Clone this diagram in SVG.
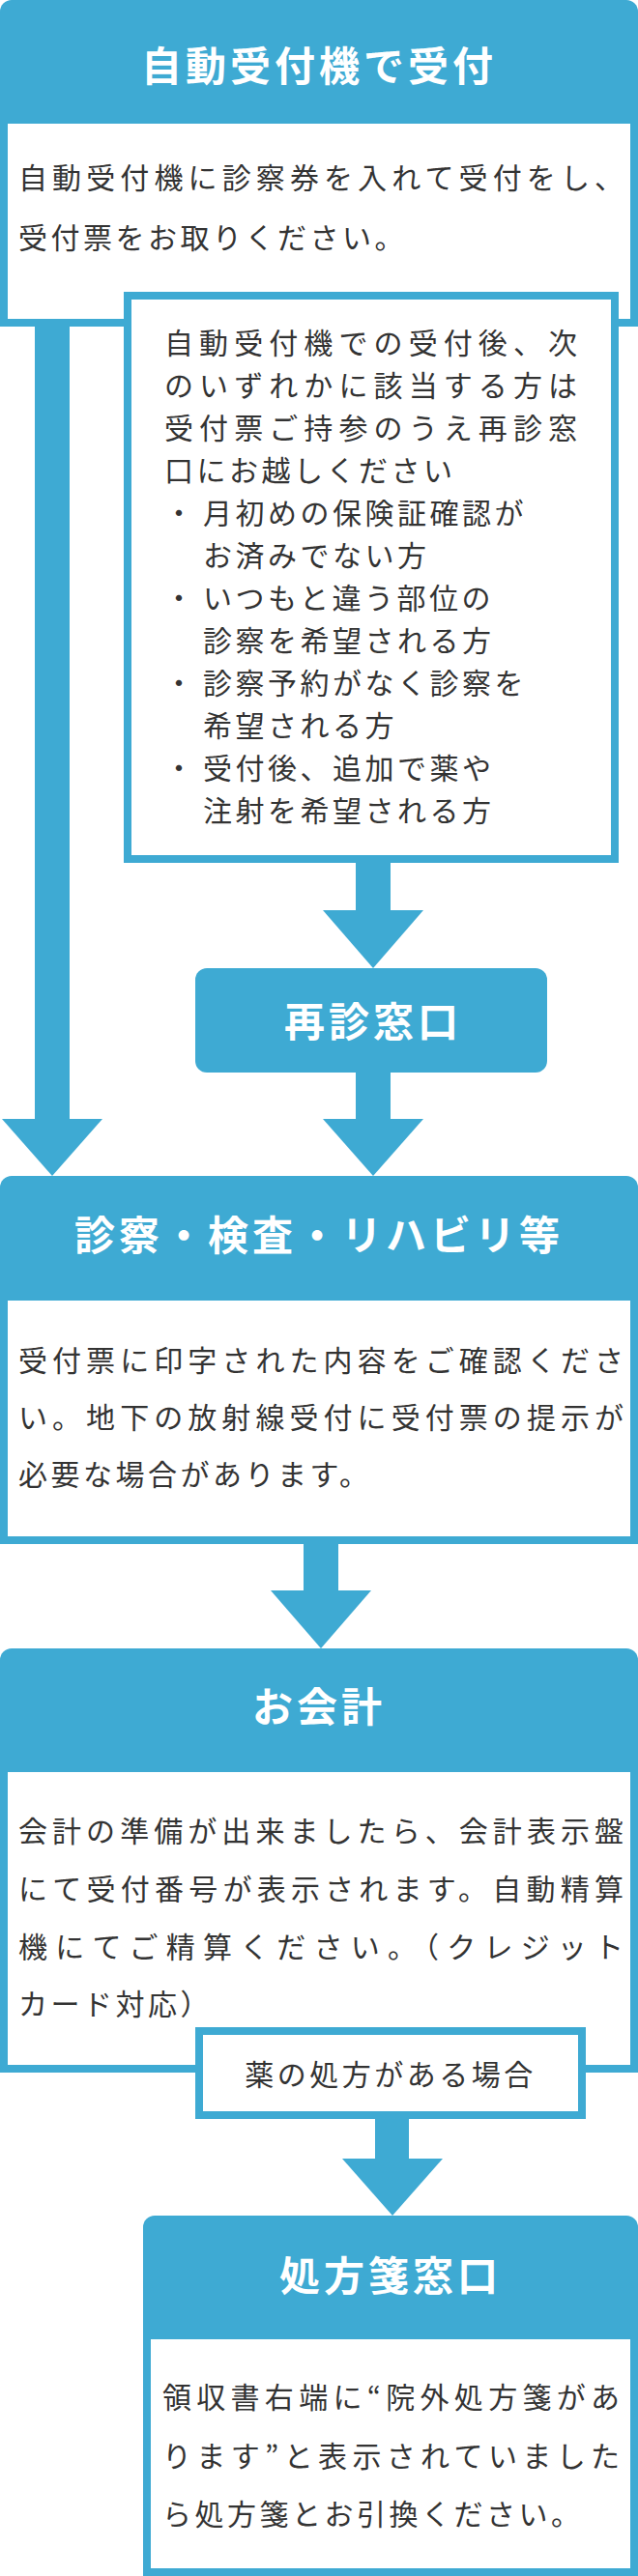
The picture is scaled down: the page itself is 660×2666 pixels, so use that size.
<svg xmlns="http://www.w3.org/2000/svg" width="660" height="2666" viewBox="0 0 660 2666">
<style>
.blue{fill:#3eaad3}
.white{fill:#ffffff}
.frame{fill:#ffffff;stroke:#3eaad3;stroke-width:8}
.title{font-family:"Noto Sans CJK JP","Noto Sans CJK SC",sans-serif;font-weight:700;font-size:42px;letter-spacing:4px;fill:#ffffff;text-anchor:middle}
.body{font-family:"Noto Sans CJK JP","Noto Sans CJK SC",sans-serif;font-weight:400;font-size:30px;letter-spacing:3.5px;fill:#333333}
.just{letter-spacing:0}
</style>
<rect width="660" height="2666" fill="#ffffff"/>

<g id="connectors">
  <rect class="blue" x="36" y="336" width="36" height="824"/>
  <polygon class="blue" points="2,1158 106,1158 54,1217"/>
  <rect class="blue" x="368" y="891" width="36" height="53"/>
  <polygon class="blue" points="334,942 438,942 386,1002"/>
  <rect class="blue" x="368" y="1108" width="36" height="52"/>
  <polygon class="blue" points="334,1158 438,1158 386,1217"/>
  <rect class="blue" x="314" y="1596" width="36" height="52"/>
  <polygon class="blue" points="280,1646 384,1646 332,1706"/>
  <rect class="blue" x="388" y="2191" width="35" height="45"/>
  <polygon class="blue" points="354,2234 458,2234 406,2293"/>
</g>

<g id="node-jidou-uketsuke">
  <path class="blue" d="M0,338 V12 A12,12 0 0 1 12,0 H648 A12,12 0 0 1 660,12 V338 Z"/>
  <rect class="white" x="8" y="128" width="644" height="202"/>
  <text class="title" x="330" y="84">自動受付機で受付</text>
  <text class="body just" x="19" y="195" textLength="626" lengthAdjust="spacing">自動受付機に診察券を入れて受付をし、</text>
  <text class="body" x="19" y="257">受付票をお取りください。</text>
</g>

<g id="node-saishin-note">
  <rect class="frame" x="132" y="306" width="504" height="583"/>
  <text class="body just" x="170" y="366" textLength="427" lengthAdjust="spacing">自動受付機での受付後、次</text>
  <text class="body just" x="170" y="410" textLength="427" lengthAdjust="spacing">のいずれかに該当する方は</text>
  <text class="body just" x="170" y="454" textLength="427" lengthAdjust="spacing">受付票ご持参のうえ再診窓</text>
  <text class="body" x="170" y="498">口にお越しください</text>
  <text class="body" x="170" y="542">・</text>
  <text class="body" x="210" y="542">月初めの保険証確認が</text>
  <text class="body" x="210" y="586">お済みでない方</text>
  <text class="body" x="170" y="630">・</text>
  <text class="body" x="210" y="630">いつもと違う部位の</text>
  <text class="body" x="210" y="674">診察を希望される方</text>
  <text class="body" x="170" y="718">・</text>
  <text class="body" x="210" y="718">診察予約がなく診察を</text>
  <text class="body" x="210" y="762">希望される方</text>
  <text class="body" x="170" y="806">・</text>
  <text class="body" x="210" y="806">受付後、追加で薬や</text>
  <text class="body" x="210" y="850">注射を希望される方</text>
</g>

<g id="node-saishin-madoguchi">
  <rect class="blue" x="202" y="1002" width="364" height="108" rx="12" ry="12"/>
  <text class="title" x="386" y="1073">再診窓口</text>
</g>

<g id="node-shinsatsu">
  <path class="blue" d="M0,1598 V1229 A12,12 0 0 1 12,1217 H648 A12,12 0 0 1 660,1229 V1598 Z"/>
  <rect class="white" x="8" y="1346" width="644" height="244"/>
  <text class="title" x="330" y="1294">診察・検査・リハビリ等</text>
  <text class="body just" x="19" y="1419" textLength="626" lengthAdjust="spacing">受付票に印字された内容をご確認くださ</text>
  <text class="body just" x="19" y="1478" textLength="626" lengthAdjust="spacing">い。地下の放射線受付に受付票の提示が</text>
  <text class="body" x="19" y="1537">必要な場合があります。</text>
</g>

<g id="node-okaikei">
  <path class="blue" d="M0,2145 V1718 A12,12 0 0 1 12,1706 H648 A12,12 0 0 1 660,1718 V2145 Z"/>
  <rect class="white" x="8" y="1834" width="644" height="303"/>
  <text class="title" x="330" y="1782">お会計</text>
  <text class="body just" x="19" y="1906" textLength="626" lengthAdjust="spacing">会計の準備が出来ましたら、会計表示盤</text>
  <text class="body just" x="19" y="1966" textLength="626" lengthAdjust="spacing">にて受付番号が表示されます。自動精算</text>
  <text class="body just" x="19" y="2026" textLength="626" lengthAdjust="spacing">機にてご精算ください。（クレジット</text>
  <text class="body" x="19" y="2085">カード対応）</text>
</g>

<g id="node-kusuri-label">
  <rect class="frame" x="206" y="2102" width="396" height="87"/>
  <text class="body" x="404" y="2158" text-anchor="middle">薬の処方がある場合</text>
</g>

<g id="node-shohousen">
  <path class="blue" d="M148,2666 V2305 A12,12 0 0 1 160,2293 H648 A12,12 0 0 1 660,2305 V2666 Z"/>
  <rect class="white" x="156" y="2421" width="496" height="237"/>
  <text class="title" x="404" y="2371">処方箋窓口</text>
  <text class="body just" x="168" y="2492" textLength="473" lengthAdjust="spacing">領収書右端に“院外処方箋があ</text>
  <text class="body just" x="168" y="2553" textLength="473" lengthAdjust="spacing">ります”と表示されていました</text>
  <text class="body" x="168" y="2613">ら処方箋とお引換ください。</text>
</g>
</svg>
